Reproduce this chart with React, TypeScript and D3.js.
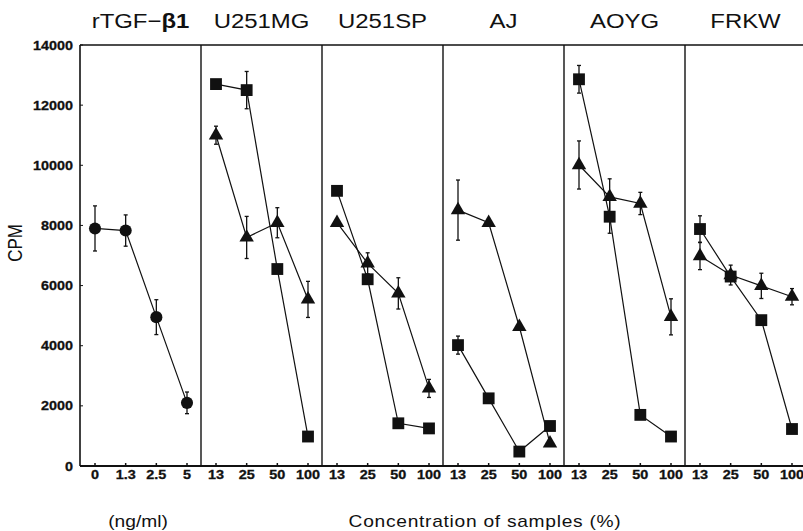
import React from 'react';
import * as d3 from 'd3';

// panel titles, left to right
const panelNames = ['rTGF−β1', 'U251MG', 'U251SP', 'AJ', 'AOYG', 'FRKW'];
const doseLabels = ['0', '1.3', '2.5', '5'];
const concLabels = ['13', '25', '50', '100'];
const yTicks = [0, 2000, 4000, 6000, 8000, 10000, 12000, 14000];

// rTGF-beta1 (circles)
const rtgfMean = [7900, 7830, 4950, 2100];
const rtgfErr = [750, 520, 580, 360];

// samples U251MG, U251SP, AJ, AOYG, FRKW
const squareMean = [
  [12700, 12500, 6550, 980],
  [9150, 6210, 1420, 1250],
  [4020, 2250, 480, 1330],
  [12860, 8290, 1700, 980],
  [7880, 6300, 4850, 1230],
];
const squareErr = [
  [0, 620, 0, 0],
  [0, 0, 0, 0],
  [300, 0, 0, 0],
  [460, 550, 0, 0],
  [440, 0, 0, 0],
];
const triangleMean = [
  [11000, 7600, 8090, 5540],
  [8090, 6740, 5740, 2580],
  [8510, 8090, 4630, 750],
  [10010, 8950, 8730, 4960],
  [6980, 6350, 5990, 5630],
];
const triangleErr = [
  [300, 700, 500, 600],
  [0, 350, 520, 300],
  [1000, 0, 0, 0],
  [800, 600, 370, 600],
  [450, 330, 420, 270],
];

const W = 803;
const H = 531;
const left = 80;
const top = 45;
const bottom = 466;
const panelW = 121;
const ink = '#111';
const font = '"Liberation Sans", Arial, Helvetica, sans-serif';

const y = d3.scaleLinear().domain([0, 14000]).range([bottom, top]);

type Pt = { x: number; v: number; e: number };

const Series = ({ pts, shape, size }: { pts: Pt[]; shape: d3.SymbolType; size: number }) => {
  const line = d3.line<Pt>().x(d => d.x).y(d => y(d.v));
  const sym = d3.symbol().type(shape).size(size)();
  return (
    <g>
      <path d={line(pts) || ''} fill="none" stroke={ink} strokeWidth={1.2} />
      {pts.filter(d => d.e > 0).map((d, i) => (
        <g key={'e' + i} stroke={ink} strokeWidth={1.3}>
          <line x1={d.x} x2={d.x} y1={y(d.v + d.e)} y2={y(d.v - d.e)} />
          <line x1={d.x - 2} x2={d.x + 2} y1={y(d.v + d.e)} y2={y(d.v + d.e)} />
          <line x1={d.x - 2} x2={d.x + 2} y1={y(d.v - d.e)} y2={y(d.v - d.e)} />
        </g>
      ))}
      {pts.map((d, i) => (
        <path key={'m' + i} d={sym || ''} transform={`translate(${d.x},${y(d.v)})`} fill={ink} />
      ))}
    </g>
  );
};

const App = () => {
  const x0 = (k: number) => left + k * panelW;
  const xPanel = (k: number, labels: string[]) =>
    d3.scalePoint<string>().domain(labels).range([x0(k) + 15, x0(k) + 107]);

  const panelX = panelNames.map((_, k) => xPanel(k, k === 0 ? doseLabels : concLabels));

  return (
    <svg width={W} height={H} style={{ position: 'absolute', left: 0, top: 0, background: '#fff' }}>
      {/* titles */}
      {panelNames.map((name, k) => (
        <text
          key={name}
          transform={`translate(${x0(k) + panelW / 2},28) scale(1.14,1)`}
          textAnchor="middle"
          fontFamily={font}
          fontSize={21}
          fill={ink}
        >
          {k === 0 ? (
            <>
              rTGF−<tspan fontWeight="bold">β1</tspan>
            </>
          ) : (
            name
          )}
        </text>
      ))}

      {/* frame */}
      <line x1={left} x2={W + 5} y1={top} y2={top} stroke={ink} strokeWidth={1.5} />
      <line x1={left} x2={W + 5} y1={bottom} y2={bottom} stroke={ink} strokeWidth={1.8} />
      {panelNames.map((_, k) => (
        <line key={k} x1={x0(k)} x2={x0(k)} y1={top} y2={bottom} stroke={ink} strokeWidth={k === 0 ? 1.6 : 1.4} />
      ))}

      {/* y axis */}
      {yTicks.map(t => (
        <g key={t}>
          <line x1={left} x2={left + 3} y1={y(t)} y2={y(t)} stroke={ink} strokeWidth={1} />
          <text
            transform={`translate(73,${y(t) + 4.5}) scale(1.15,1)`}
            textAnchor="end"
            fontFamily={font}
            fontWeight="bold"
            fontSize={12.5}
            stroke={ink}
            strokeWidth={0.3}
            fill={ink}
          >
            {t}
          </text>
        </g>
      ))}
      <text
        transform={`translate(22,243) rotate(-90) scale(1,1.15)`}
        textAnchor="middle"
        fontFamily={font}
        fontSize={17}
        fill={ink}
      >
        CPM
      </text>

      {/* x ticks */}
      {panelX.map((sx, k) =>
        sx.domain().map(lab => (
          <g key={k + lab}>
            <line x1={sx(lab)} x2={sx(lab)} y1={bottom} y2={bottom - 3} stroke={ink} strokeWidth={1.5} />
            <text
              transform={`translate(${sx(lab)},479) scale(1.2,1)`}
              textAnchor="middle"
              fontFamily={font}
              fontWeight="bold"
              fontSize={12}
              stroke={ink}
              strokeWidth={0.3}
              fill={ink}
            >
              {lab}
            </text>
          </g>
        ))
      )}

      {/* data */}
      <Series
        pts={doseLabels.map((l, i) => ({ x: panelX[0](l) as number, v: rtgfMean[i], e: rtgfErr[i] }))}
        shape={d3.symbolCircle}
        size={115}
      />
      {squareMean.map((_, s) => (
        <g key={s}>
          <Series
            pts={concLabels.map((l, i) => ({ x: panelX[s + 1](l) as number, v: squareMean[s][i], e: squareErr[s][i] }))}
            shape={d3.symbolSquare}
            size={140}
          />
          <Series
            pts={concLabels.map((l, i) => ({ x: panelX[s + 1](l) as number, v: triangleMean[s][i], e: triangleErr[s][i] }))}
            shape={d3.symbolTriangle}
            size={90}
          />
        </g>
      ))}

      {/* axis captions */}
      <text transform="translate(138,527) scale(1.2,1)" textAnchor="middle" fontFamily={font} fontSize={16} fill={ink}>
        (ng/ml)
      </text>
      <text transform="translate(485,527) scale(1.2,1)" textAnchor="middle" fontFamily={font} fontSize={16} letterSpacing={0.6} fill={ink}>
        Concentration of samples (%)
      </text>
    </svg>
  );
};

export default App;
